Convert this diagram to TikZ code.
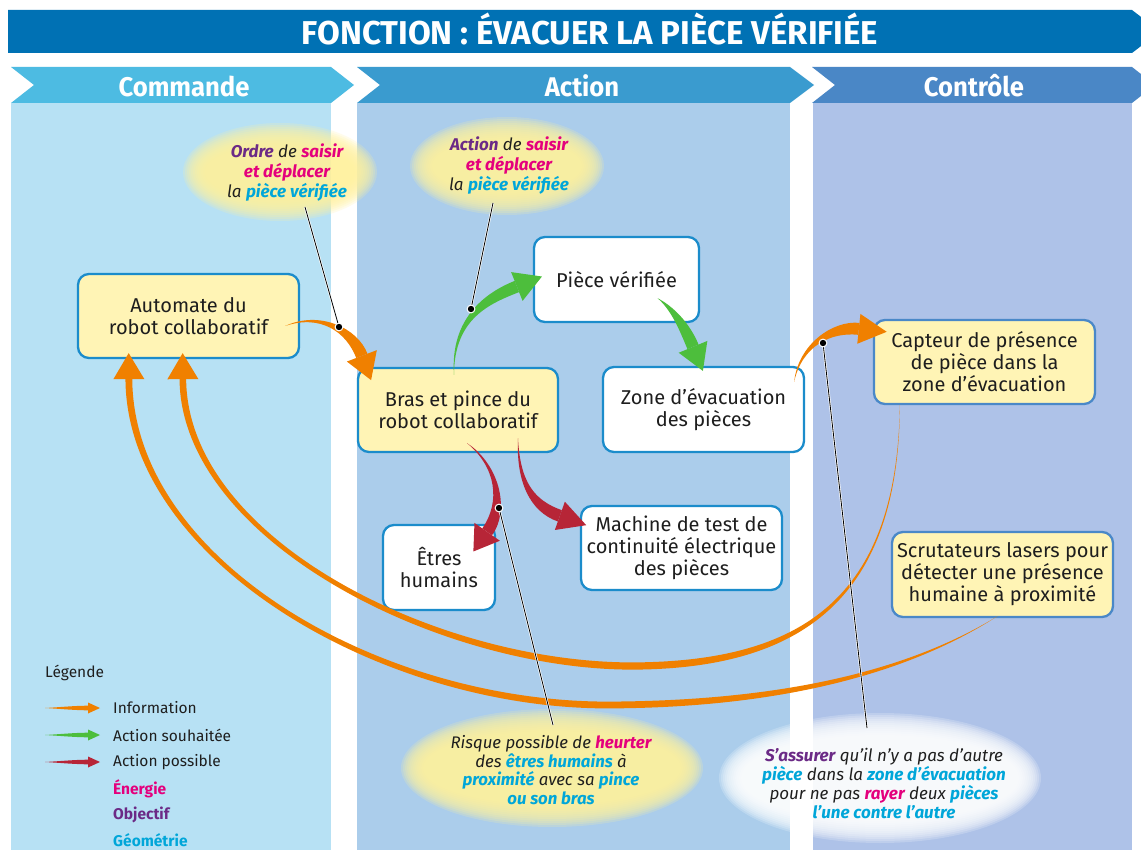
\documentclass[tikz,border=0pt]{standalone}
\usepackage{fontspec}
\setmainfont{Fira Sans}
\newfontfamily\condfont[FakeStretch=0.95]{Fira Sans}
\usetikzlibrary{calc}
\definecolor{titleblue}{HTML}{0071B4}
\definecolor{chevA}{HTML}{4DBBE2}
\definecolor{chevB}{HTML}{3A9BCF}
\definecolor{chevC}{HTML}{4A87C6}
\definecolor{colA}{HTML}{B7E1F4}
\definecolor{colB}{HTML}{ABCDEB}
\definecolor{colC}{HTML}{AEC2E8}
\definecolor{boxblue}{HTML}{1B8CCB}
\definecolor{boxblueC}{HTML}{4A88C8}
\definecolor{boxyellow}{HTML}{FFF4B5}
\definecolor{glowyellow}{HTML}{FFF29E}
\definecolor{txtdark}{HTML}{1E1E1E}
\definecolor{arrOrange}{HTML}{F08000}
\definecolor{arrGreen}{HTML}{4DBE3C}
\definecolor{arrRed}{HTML}{B72537}
\definecolor{nrgcol}{HTML}{E4007D}
\definecolor{objcol}{HTML}{6B2A86}
\definecolor{geocol}{HTML}{00A6D9}
\newcommand\objw[1]{\textbf{\textcolor{objcol}{#1}}}
\newcommand\nrgw[1]{\textbf{\textcolor{nrgcol}{#1}}}
\newcommand\geow[1]{\textbf{\textcolor{geocol}{#1}}}
% tapered arrow, one cubic segment: color, prefix, end half width, head half width, head length
\newcommand\taperone[5]{%
  \coordinate (#2Sn) at ($(#2S)!#3!90:(#2A)$);
  \coordinate (#2En) at ($(#2E)!#3!-90:(#2B)$);
  \coordinate (#2Ep) at ($(#2E)!#3!90:(#2B)$);
  \fill[#1] (#2S) .. controls ($(#2A)+0.35*(#2Sn)-0.35*(#2S)$) and ($(#2B)+(#2En)-(#2E)$) .. (#2En)
     -- (#2Ep) .. controls ($(#2B)+(#2Ep)-(#2E)$) and ($(#2A)-0.35*(#2Sn)+0.35*(#2S)$) .. (#2S) -- cycle;
  \fill[#1] ($(#2E)!#5!180:(#2B)$) -- ($(#2E)!#4!90:(#2B)$) -- ($(#2E)!#4!-90:(#2B)$) -- cycle;
}
% tapered arrow, two cubic segments: color, prefix, mid half width, end half width, head half width, head length
\newcommand\tapertwo[6]{%
  \coordinate (#2Sn) at ($(#2S)!#3!90:(#2A)$);
  \coordinate (#2Mn) at ($(#2M)!#3!-90:(#2B)$);
  \coordinate (#2Mp) at ($(#2M)!#3!90:(#2B)$);
  \coordinate (#2En) at ($(#2E)!#4!-90:(#2D)$);
  \coordinate (#2Ep) at ($(#2E)!#4!90:(#2D)$);
  \fill[#1] (#2S) .. controls ($(#2A)+0.3*(#2Sn)-0.3*(#2S)$) and ($(#2B)+(#2Mn)-(#2M)$) .. (#2Mn)
     .. controls ($(#2C)+(#2Mn)-(#2M)$) and ($(#2D)+(#2En)-(#2E)$) .. (#2En)
     -- (#2Ep) .. controls ($(#2D)+(#2Ep)-(#2E)$) and ($(#2C)+(#2Mp)-(#2M)$) .. (#2Mp)
     .. controls ($(#2B)+(#2Mp)-(#2M)$) and ($(#2A)-0.3*(#2Sn)+0.3*(#2S)$) .. (#2S) -- cycle;
  \fill[#1] ($(#2E)!#6!180:(#2D)$) -- ($(#2E)!#5!90:(#2D)$) -- ($(#2E)!#5!-90:(#2D)$) -- cycle;
}
\newcommand\glowell[4]{%
  \foreach \k in {0,...,11}{%
    \fill[#4, opacity=0.2] (#1) ellipse [x radius={(#2+4-2*\k)*1pt}, y radius={(#3+4-2*\k)*1pt}];
  }%
}
\newcommand\leaderline[2]{%
  \draw[white, line width=2.2pt] (#1) -- (#2);
  \draw[black, line width=0.8pt] (#1) -- (#2);
  \fill[white] (#2) circle (4.4pt);
  \fill[black] (#2) circle (3.2pt);
}
\begin{document}
\begin{tikzpicture}[x=1pt, y=-1pt,
  boxbase/.style={line width=2.3pt, rounded corners=11pt, align=center, inner sep=0pt, text=txtdark, font=\fontsize{20}{22}\selectfont},
  ybox/.style={boxbase, draw=boxblue, fill=boxyellow},
  wbox/.style={boxbase, draw=boxblue, fill=white},
  cbox/.style={boxbase, draw=boxblueC, fill=boxyellow},
  calltxt/.style={align=center, inner sep=0pt, text=txtdark, font=\itshape\fontsize{17}{20}\selectfont},
  headtxt/.style={text=white, inner sep=0pt, font=\condfont\bfseries\fontsize{27}{27}\selectfont},
  legtxt/.style={anchor=west, inner sep=0pt, text=txtdark, font=\fontsize{15.5}{15.5}\selectfont}
]
\useasboundingbox (0,0) rectangle (1141,850);
\fill[white] (0,0) rectangle (1141,850);
% columns
\fill[colA] (11,103) rectangle (331,850);
\fill[colB] (357,103) rectangle (790,850);
\fill[colC] (813,103) rectangle (1132,850);
% chevrons
\fill[chevA] (11,67) -- (331,67) -- (354,85) -- (331,103) -- (11,103) -- (34,85) -- cycle;
\fill[chevB] (357,67) -- (790,67) -- (814,85) -- (790,103) -- (357,103) -- (380,85) -- cycle;
\fill[chevC] (812,67) -- (1132,67) -- (1155,85) -- (1132,103) -- (812,103) -- (835,85) -- cycle;
\fill[titleblue] (8,10) -- (1132,10) -- (1160,31.5) -- (1132,53) -- (8,53) -- cycle;
\node[text=white, inner sep=0pt, font=\bfseries\fontsize{33}{33}\selectfont] (title) at (590,29) {FONCTION : ÉVACUER LA PIÈCE VÉRIFIÉE};
\node[headtxt] (hcmd) at (184,86) {Commande};
\node[headtxt] (hact) at (582,86) {Action};
\node[headtxt] (hctl) at (974,86) {Contrôle};
% glows
\coordinate (gOrdre) at (280,172);
\coordinate (gAction) at (507,166);
\coordinate (gRisque) at (552,768);
\coordinate (gAssur) at (880,778);
\glowell{gOrdre}{93}{45}{glowyellow}
\glowell{gAction}{93}{45}{glowyellow}
\glowell{gRisque}{147}{55}{glowyellow}
\glowell{gAssur}{157}{61}{white}
% callout texts
\node[calltxt] (cOrdre) at (287,173) {\objw{Ordre} de \nrgw{saisir}\\\nrgw{et déplacer}\\la \geow{pièce vérifiée}};
\node[calltxt] (cAction) at (509,166) {\objw{Action} de \nrgw{saisir}\\\nrgw{et déplacer}\\la \geow{pièce vérifiée}};
\node[calltxt, font=\itshape\fontsize{16.8}{18.7}\selectfont] (cRisque) at (551,770) {Risque possible de \nrgw{heurter}\\des \geow{êtres humains} à\\\geow{proximité} avec sa \geow{pince}\\\geow{ou son bras}};
\node[calltxt, font=\itshape\fontsize{17}{19}\selectfont] (cAssur) at (884,784) {\objw{S’assurer} qu’il n’y a pas d’autre\\\geow{pièce} dans la \geow{zone d’évacuation}\\pour ne pas \nrgw{rayer} deux \geow{pièces}\\\geow{l’une contre l’autre}};
% boxes
\node[ybox, minimum width=221pt, minimum height=84pt] (auto) at (188.5,316) {Automate du\\robot collaboratif};
\node[ybox, minimum width=200pt, minimum height=84pt] (bras) at (458,410) {Bras et pince du\\robot collaboratif};
\node[wbox, minimum width=165pt, minimum height=85pt] (piece) at (616.5,279.5) {Pièce vérifiée};
\node[wbox, minimum width=201pt, minimum height=85pt] (zone) at (703.5,409.5) {Zone d’évacuation\\des pièces};
\node[wbox, minimum width=112pt, minimum height=85pt] (etres) at (439,567.5) {Êtres\\humains};
\node[wbox, minimum width=201pt, minimum height=84pt] (machine) at (681.5,548) {Machine de test de\\continuité électrique\\des pièces};
\node[cbox, minimum width=221pt, minimum height=84pt] (capteur) at (984.5,362) {Capteur de présence\\de pièce dans la\\zone d’évacuation};
\node[cbox, minimum width=221pt, minimum height=85pt] (scrut) at (1002.5,574.5) {Scrutateurs lasers pour\\détecter une présence\\humaine à proximité};
% arrows
\coordinate (a1S) at ($(auto.east)+(-15,10)$);
\coordinate (a1A) at (320,312);
\coordinate (a1B) at (352,330);
\coordinate (a1E) at ($(bras.north west)+(5,-11)$);
\taperone{arrOrange}{a1}{6pt}{16pt}{26pt}
\coordinate (a2S) at ($(bras.north)+(-4,8)$);
\coordinate (a2A) at (452,318);
\coordinate (a2B) at (488,298);
\coordinate (a2E) at ($(piece.west)+(-16,7)$);
\taperone{arrGreen}{a2}{6pt}{15.5pt}{27pt}
\coordinate (a3S) at ($(piece.south)+(41,-25)$);
\coordinate (a3A) at (672,308);
\coordinate (a3B) at (684,325);
\coordinate (a3E) at ($(zone.north)+(-10.5,-19)$);
\taperone{arrGreen}{a3}{6pt}{15.5pt}{26pt}
\coordinate (a4S) at ($(bras.south)+(9,-10)$);
\coordinate (a4A) at (497,465);
\coordinate (a4B) at (506,505);
\coordinate (a4E) at ($(etres.north east)+(-9,8)$);
\taperone{arrRed}{a4}{6pt}{15.5pt}{24pt}
\coordinate (a5S) at ($(bras.south)+(60,-15)$);
\coordinate (a5A) at (518,482);
\coordinate (a5B) at (532,506);
\coordinate (a5E) at ($(machine.north west)+(-20,11)$);
\taperone{arrRed}{a5}{6pt}{15pt}{28pt}
\coordinate (a6S) at ($(zone.north east)+(-11,16)$);
\coordinate (a6A) at (800,345);
\coordinate (a6B) at (832,326);
\coordinate (a6E) at ($(capteur.north west)+(-14,10)$);
\taperone{arrOrange}{a6}{6pt}{15pt}{28pt}
\coordinate (a7S) at ($(capteur.south west)+(27,0)$);
\coordinate (a7A) at (898,600);
\coordinate (a7B) at (800,664);
\coordinate (a7M) at (637,666);
\coordinate (a7C) at (440,668);
\coordinate (a7D) at (184,540);
\coordinate (a7E) at ($(auto.south west)+(106,20)$);
\tapertwo{arrOrange}{a7}{3.6pt}{3.3pt}{15.5pt}{26pt}
\coordinate (a8S) at ($(scrut.south)+(-5,-2)$);
\coordinate (a8A) at (920,665);
\coordinate (a8B) at (800,704);
\coordinate (a8M) at (610,705);
\coordinate (a8C) at (380,706);
\coordinate (a8D) at (130,560);
\coordinate (a8E) at ($(auto.south west)+(52,20)$);
\tapertwo{arrOrange}{a8}{3.4pt}{3.4pt}{15.5pt}{26pt}
% leaders
\coordinate (l1) at (305,207); \coordinate (d1) at (339,327);
\coordinate (l2) at (493,203); \coordinate (d2) at (471,309);
\coordinate (l3) at (553,725); \coordinate (d3) at (499,508);
\coordinate (l4) at (867,728); \coordinate (d4) at (823,343);
\leaderline{l1}{d1}
\leaderline{l2}{d2}
\leaderline{l3}{d3}
\leaderline{l4}{d4}
% legend
\node[legtxt] (legt) at (45,673) {Légende};
\coordinate (lg1S) at (45,708); \coordinate (lg1A) at (60,708); \coordinate (lg1B) at (75,708); \coordinate (lg1E) at (88,708);
\taperone{arrOrange}{lg1}{2.3pt}{5.5pt}{12pt}
\coordinate (lg2S) at (45,735); \coordinate (lg2A) at (60,735); \coordinate (lg2B) at (75,735); \coordinate (lg2E) at (88,735);
\taperone{arrGreen}{lg2}{2.3pt}{5.5pt}{12pt}
\coordinate (lg3S) at (45,762); \coordinate (lg3A) at (60,762); \coordinate (lg3B) at (75,762); \coordinate (lg3E) at (88,762);
\taperone{arrRed}{lg3}{2.3pt}{5.5pt}{12pt}
\node[legtxt] (leg1) at (113,708) {Information};
\node[legtxt] (leg2) at (113,735) {Action souhaitée};
\node[legtxt] (leg3) at (113,762) {Action possible};
\node[legtxt, text=nrgcol, font=\bfseries\fontsize{15.5}{15.5}\selectfont] (leg4) at (113,789) {Énergie};
\node[legtxt, text=objcol, font=\bfseries\fontsize{15.5}{15.5}\selectfont] (leg5) at (113,815) {Objectif};
\node[legtxt, text=geocol, font=\bfseries\fontsize{15.5}{15.5}\selectfont] (leg6) at (113,840) {Géométrie};
\end{tikzpicture}
\end{document}
